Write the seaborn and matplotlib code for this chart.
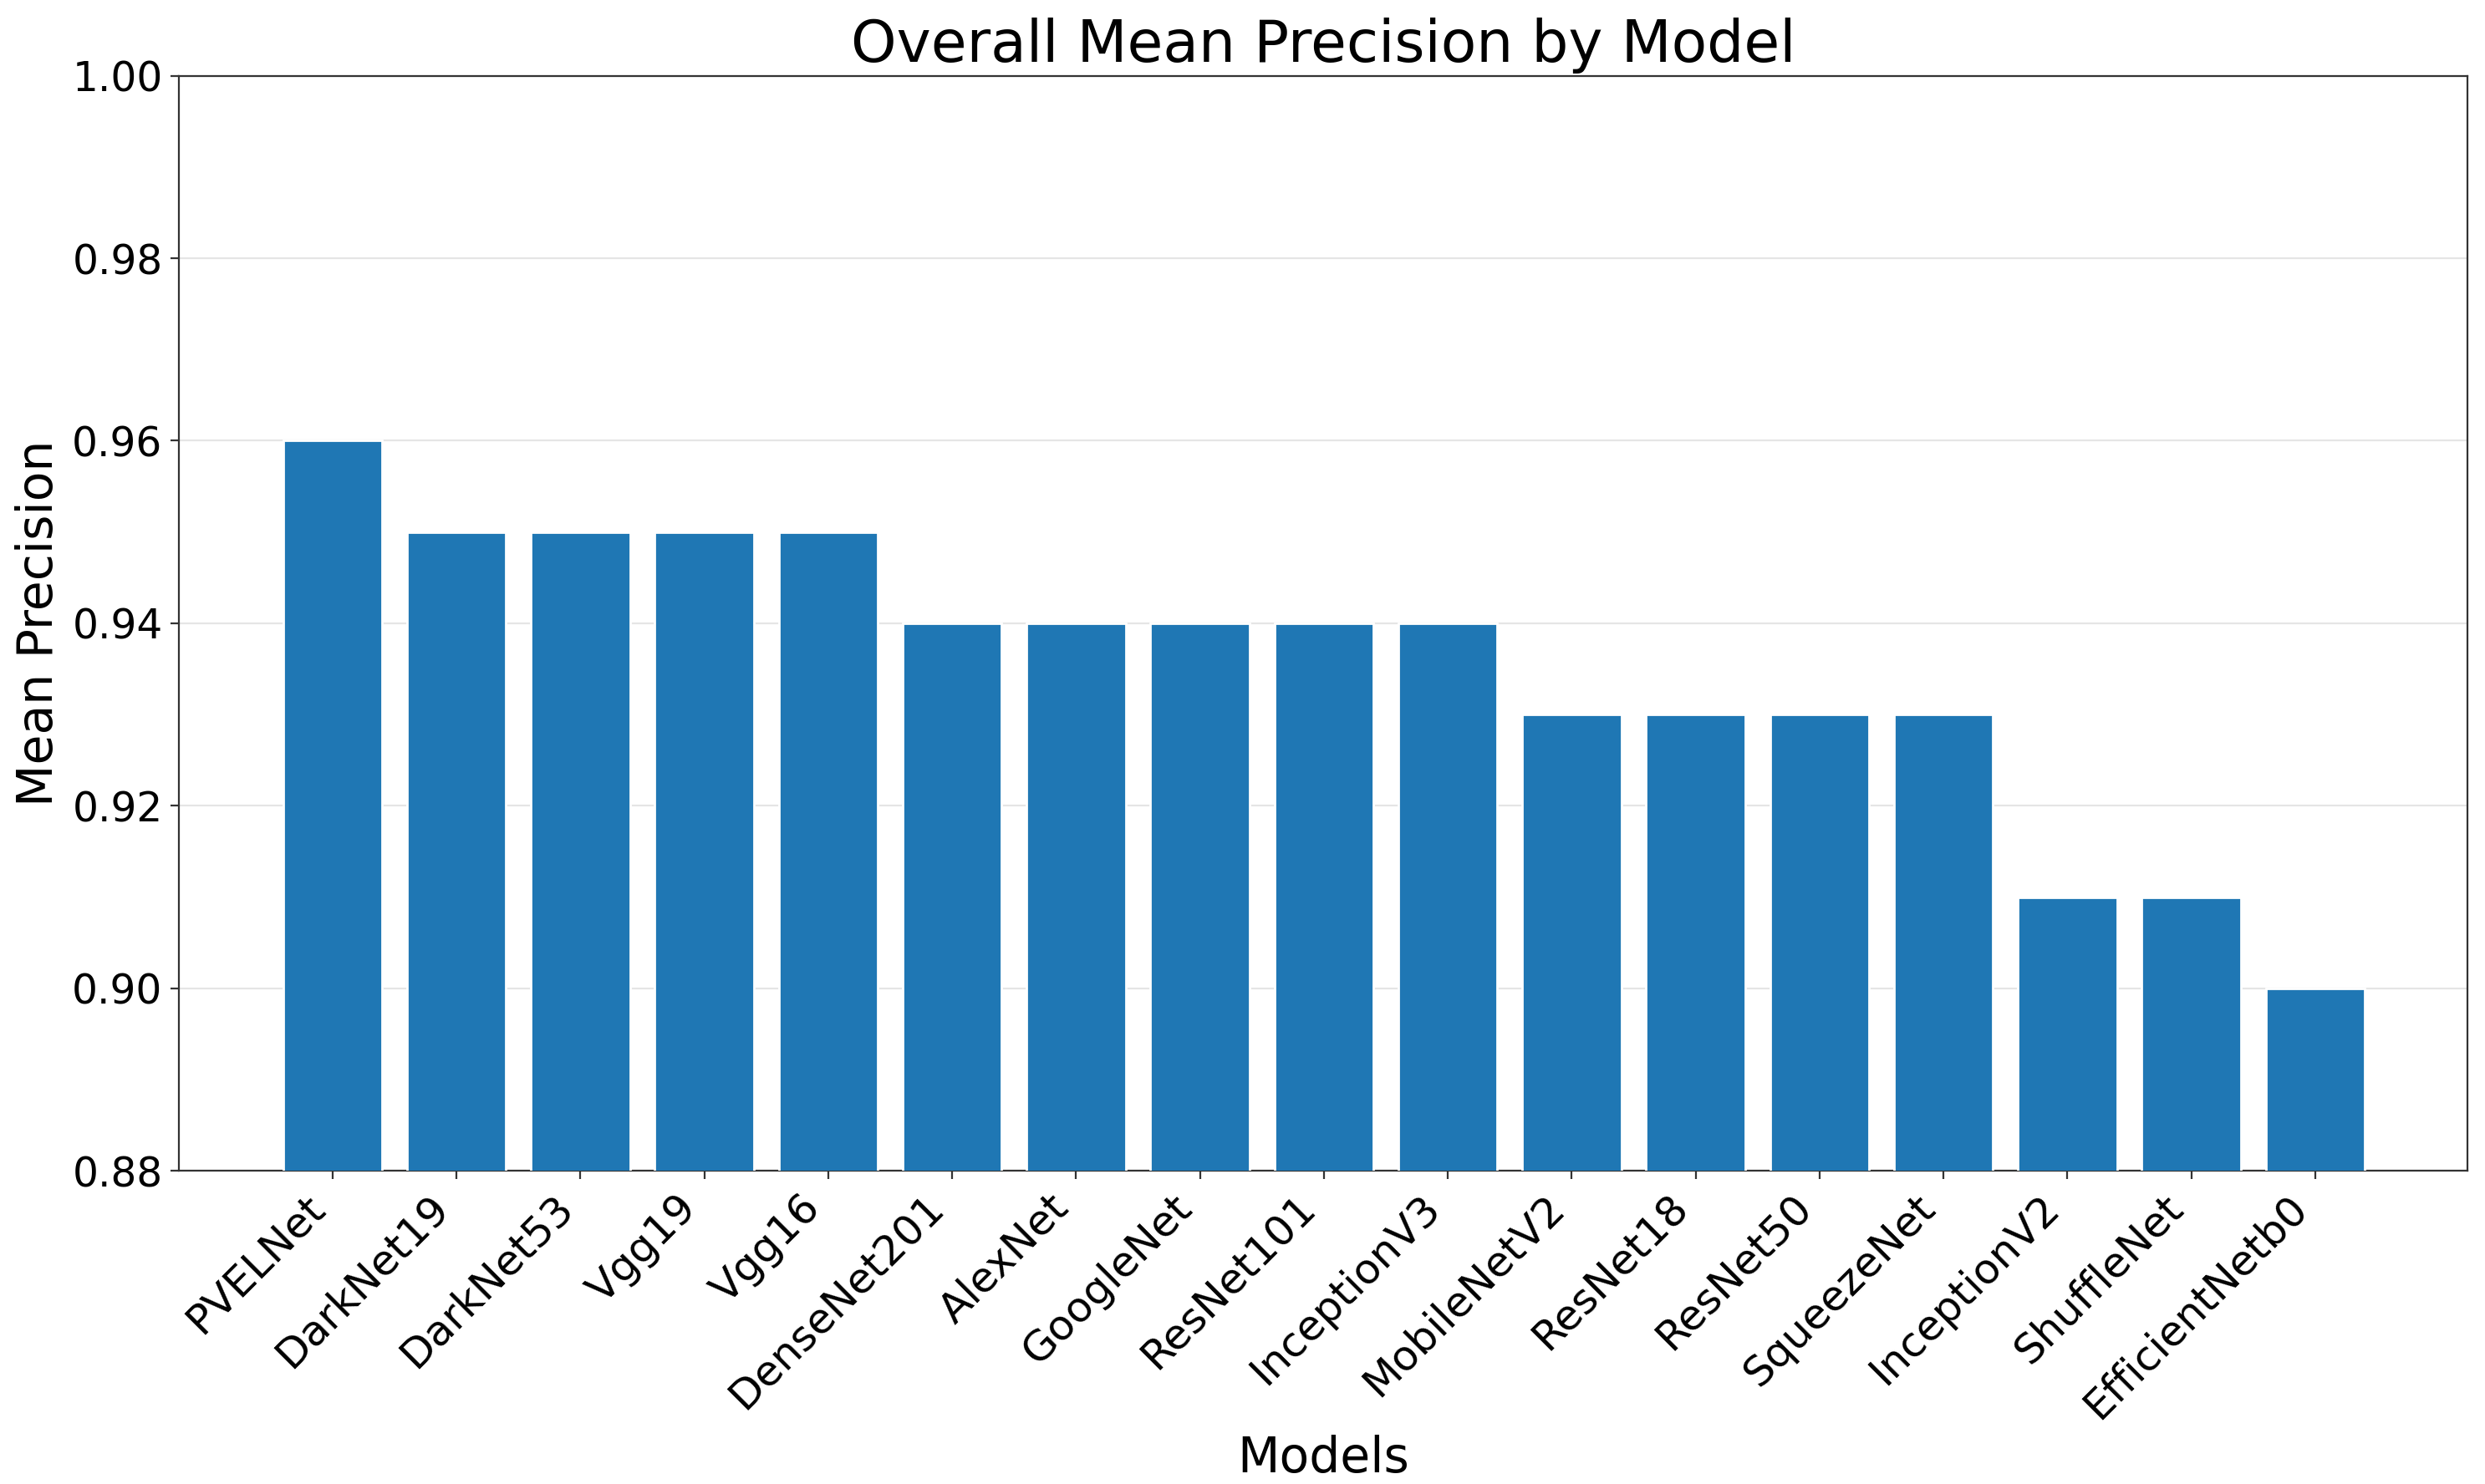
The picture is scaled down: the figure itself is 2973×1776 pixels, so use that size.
import matplotlib
matplotlib.use("Agg")
import matplotlib.pyplot as plt
import seaborn as sns
import pandas as pd

# Data
models = ['PVELNet', 'DarkNet19', 'DarkNet53', 'Vgg19', 'Vgg16', 'DenseNet201',
          'AlexNet', 'GoogleNet', 'ResNet101', 'InceptionV3', 'MobileNetV2',
          'ResNet18', 'ResNet50', 'SqueezeNet', 'InceptionV2', 'ShuffleNet',
          'EfficientNetb0']
mean_precision = [0.96, 0.95, 0.95, 0.95, 0.95, 0.94, 0.94, 0.94, 0.94, 0.94,
                  0.93, 0.93, 0.93, 0.93, 0.91, 0.91, 0.90]
y_ticks = [0.88, 0.90, 0.92, 0.94, 0.96, 0.98, 1.00]

df = pd.DataFrame({'Model': models, 'Precision': mean_precision})

sns.set_style("ticks")
plt.rcParams['text.color'] = 'black'
plt.rcParams['axes.labelcolor'] = 'black'
plt.rcParams['xtick.color'] = '#333333'
plt.rcParams['ytick.color'] = '#333333'
plt.rcParams['xtick.labelcolor'] = 'black'
plt.rcParams['ytick.labelcolor'] = 'black'

fig = plt.figure(figsize=(14.865, 8.88), dpi=200)
ax = fig.add_axes([0.072, 0.211, 0.921, 0.738])

sns.barplot(data=df, x='Model', y='Precision', color='#1f77b4',
            saturation=1, width=0.8, ax=ax, zorder=3)

ax.set_ylim(0.88, 1.00)
ax.set_yticks(y_ticks)
ax.set_yticklabels([f"{v:.2f}" for v in y_ticks], fontsize=17.5)
ax.set_xlim(-1.24, len(models) + 0.23)
ax.tick_params(axis='x', labelsize=18)
plt.setp(ax.get_xticklabels(), rotation=45, ha='right')
ax.grid(axis='y', color='#e5e5e5', linewidth=0.8, zorder=0)
ax.set_axisbelow(True)

for side in ['top', 'right', 'left', 'bottom']:
    ax.spines[side].set_visible(True)
    ax.spines[side].set_color('#333333')
    ax.spines[side].set_linewidth(0.8)

ax.set_title('Overall Mean Precision by Model', fontsize=25)
ax.set_xlabel('Models', fontsize=21)
ax.set_ylabel('Mean Precision', fontsize=21)

fig.savefig('out.png', dpi=200)
